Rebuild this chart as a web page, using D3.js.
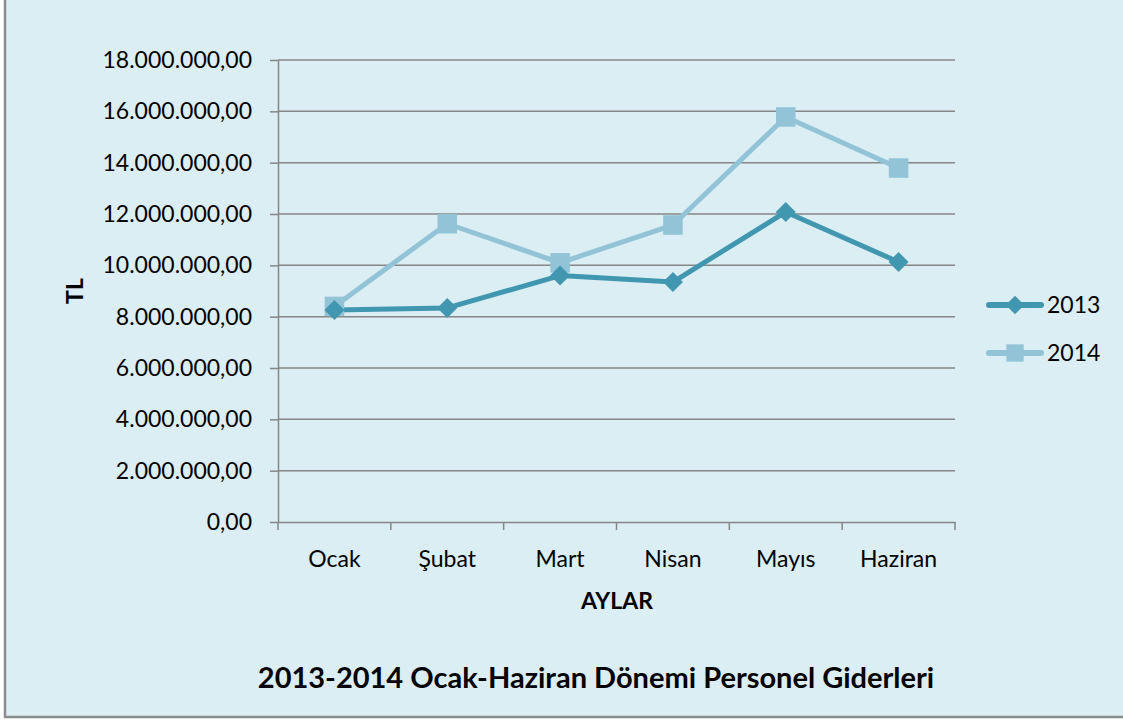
<!DOCTYPE html>
<html>
<head>
<meta charset="utf-8">
<script src="https://cdn.jsdelivr.net/npm/d3@7"></script>
<style>
  body { margin: 0; background: #fff; }
  svg { display: block; font-family: Lato, "Open Sans", sans-serif; }
</style>
</head>
<body>
<svg id="chart" width="1123" height="720"></svg>
<script>
const months = ["Ocak", "Şubat", "Mart", "Nisan", "Mayıs", "Haziran"];
const values2013 = [8260000, 8340000, 9600000, 9350000, 12080000, 10130000];
const values2014 = [8400000, 11620000, 10100000, 11570000, 15780000, 13790000];
const yTicks = [0, 2000000, 4000000, 6000000, 8000000, 10000000, 12000000, 14000000, 16000000, 18000000];

const svg = d3.select("#chart");
const margin = {left: 278, top: 60, right: 168, bottom: 198};
const W = 1123, H = 720;
const width = W - margin.left - margin.right;
const height = H - margin.top - margin.bottom;

// background panel, border only left and bottom
svg.append("rect")
  .attr("x", 5).attr("y", 0).attr("width", W - 5).attr("height", 717)
  .attr("fill", "#dbeef4");
svg.append("path")
  .attr("d", "M5,0V717H" + W)
  .attr("fill", "none").attr("stroke", "#8c8c8c").attr("stroke-width", 2.5);

const x = d3.scaleBand().domain(months).range([0, width]);
const y = d3.scaleLinear().domain([0, 18000000]).range([height, 0]);

function fmt(v) {
  const s = d3.format(",.2f")(v);
  return s.replace(/,/g, "#").replace(".", ",").replace(/#/g, ".");
}

const g = svg.append("g").attr("transform", "translate(" + margin.left + "," + margin.top + ")");

// gridlines
g.selectAll("line.grid").data(yTicks.slice(1)).enter().append("line")
  .attr("class", "grid")
  .attr("x1", 0).attr("x2", width)
  .attr("y1", d => y(d)).attr("y2", d => y(d))
  .attr("stroke", "#868686").attr("stroke-width", 1.5);

// y axis
const yAxis = g.append("g")
  .call(d3.axisLeft(y).tickValues(yTicks).tickFormat(fmt).tickSizeInner(8).tickSizeOuter(0).tickPadding(18));
yAxis.select(".domain").attr("stroke", "#868686").attr("stroke-width", 1.5);
yAxis.selectAll(".tick line").attr("stroke", "#868686").attr("stroke-width", 1.5);
yAxis.selectAll("text").attr("font-size", 23).attr("fill", "#000").attr("font-family", "Lato, sans-serif");

// x axis
const xAxis = g.append("g").attr("transform", "translate(0," + height + ")")
  .call(d3.axisBottom(x).tickSize(0));
xAxis.select(".domain").attr("stroke", "#868686").attr("stroke-width", 1.5);
xAxis.selectAll("text").attr("y", 45).attr("dy", 0)
  .attr("font-size", 23).attr("fill", "#000").attr("font-family", "Lato, sans-serif");
const bounds = months.map(m => x(m)).concat([width]);
g.selectAll("line.xtick").data(bounds).enter().append("line")
  .attr("x1", d => d).attr("x2", d => d)
  .attr("y1", height).attr("y2", height + 8)
  .attr("stroke", "#868686").attr("stroke-width", 1.5);

const cx = m => x(m) + x.bandwidth() / 2;
const series = [
  {name: "2013", data: values2013, color: "#4197b0", shape: "diamond"},
  {name: "2014", data: values2014, color: "#93c3d6", shape: "square"}
];

const line = d3.line().x((d, i) => cx(months[i])).y(d => y(d));

series.slice().reverse().forEach(s => {
  g.append("path").datum(s.data)
    .attr("d", line).attr("fill", "none")
    .attr("stroke", s.color).attr("stroke-width", 5).attr("stroke-linejoin", "round");
});
series.slice().reverse().forEach(s => {
  const sym = s.shape === "diamond" ? d3.symbol().type(d3.symbolSquare).size(200) : d3.symbol().type(d3.symbolSquare).size(380);
  g.selectAll(null).data(s.data).enter().append("path")
    .attr("d", sym)
    .attr("transform", (d, i) => "translate(" + cx(months[i]) + "," + y(d) + ")" + (s.shape === "diamond" ? " rotate(45)" : ""))
    .attr("fill", s.color);
});

// legend
series.forEach((s, i) => {
  const ly = 305 + i * 48;
  svg.append("line").attr("x1", 989).attr("x2", 1041).attr("y1", ly).attr("y2", ly)
    .attr("stroke", s.color).attr("stroke-width", 6).attr("stroke-linecap", "round");
  const sym = s.shape === "diamond" ? d3.symbol().type(d3.symbolSquare).size(170) : d3.symbol().type(d3.symbolSquare).size(300);
  svg.append("path").attr("d", sym)
    .attr("transform", "translate(1015," + ly + ")" + (s.shape === "diamond" ? " rotate(45)" : ""))
    .attr("fill", s.color);
  svg.append("text").attr("x", 1047).attr("y", ly + 8).text(s.name)
    .attr("font-size", 23).attr("fill", "#000");
});

// axis titles
svg.append("text").attr("transform", "translate(83,291) rotate(-90)")
  .attr("text-anchor", "middle").attr("font-weight", "bold").attr("font-size", 23).text("TL");
svg.append("text").attr("x", 617).attr("y", 609)
  .attr("text-anchor", "middle").attr("font-weight", "bold").attr("font-size", 23).text("AYLAR");

// chart title
svg.append("text").attr("x", 596).attr("y", 688)
  .attr("text-anchor", "middle").attr("font-weight", "bold").attr("font-size", 29).text("2013-2014 Ocak-Haziran Dönemi Personel Giderleri");
</script>
</body>
</html>
